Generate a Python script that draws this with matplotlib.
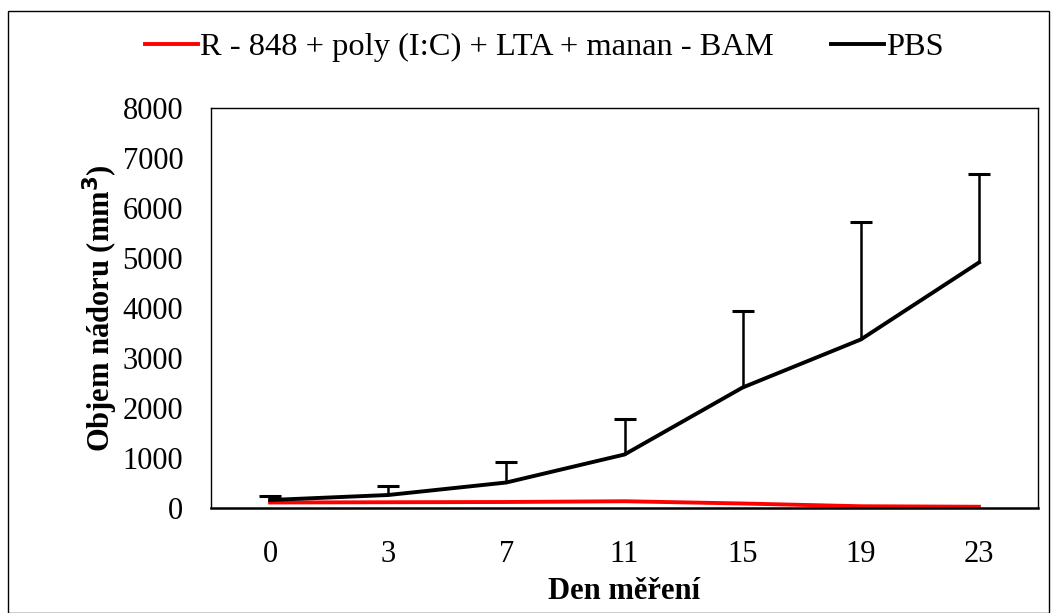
import matplotlib
matplotlib.use("Agg")
import matplotlib.pyplot as plt
from matplotlib.patches import Rectangle

# mereni objemu nadoru
days = ["0", "3", "7", "11", "15", "19", "23"]
bam = [110, 115, 120, 135, 90, 35, 25]
pbs = [160, 260, 510, 1070, 2410, 3370, 4910]
pbs_sd = [85, 190, 410, 720, 1535, 2355, 1770]

plt.rcParams['font.family'] = ['Liberation Serif', 'DejaVu Serif']

fig = plt.figure(figsize=(10.57, 6.13), dpi=100)
fig.patches.append(Rectangle((8 / 1057, 0), 1041 / 1057, 602 / 613, transform=fig.transFigure,
                             fill=False, edgecolor="black", linewidth=1.0))

ax = fig.add_axes([211 / 1057, 105 / 613, 827 / 1057, 400 / 613])
x = [i + 0.5 for i in range(len(days))]

# jen horni chybove useky
eb = ax.errorbar(x, pbs, yerr=[[0] * len(pbs), pbs_sd], fmt="none", ecolor="black",
                 elinewidth=1.8, capsize=8, capthick=2.2)
eb[1][0].set_visible(False)

ax.plot(x, bam, color="#ff0000", linewidth=2.8, label="R - 848 + poly (I:C) + LTA + manan - BAM")
ax.plot(x, pbs, color="black", linewidth=2.8, label="PBS")

ax.set_xlim(0, len(days))
ax.set_ylim(0, 8000)
ax.set_xticks(x)
ax.set_xticklabels(days)
ax.set_yticks(range(0, 8001, 1000))
ax.tick_params(length=0, labelsize=22)
ax.tick_params(axis="y", pad=20)
ax.tick_params(axis="x", pad=23)

for s in ["left", "top", "right"]:
    ax.spines[s].set_linewidth(1.0)
ax.spines["bottom"].set_linewidth(1.8)

ax.set_xlabel("Den měření", fontsize=22, fontweight="bold", labelpad=6)
ax.set_ylabel("Objem nádoru (mm$^\\mathbf{3}$)", fontsize=22, fontweight="bold", labelpad=2)

fig.legend(loc="center", bbox_to_anchor=(544 / 1057, 1 - 47 / 613), ncol=2, frameon=False,
           fontsize=23.4, handlelength=1.65, handletextpad=0.05, columnspacing=1.75)

fig.savefig("out.png", dpi=100)
